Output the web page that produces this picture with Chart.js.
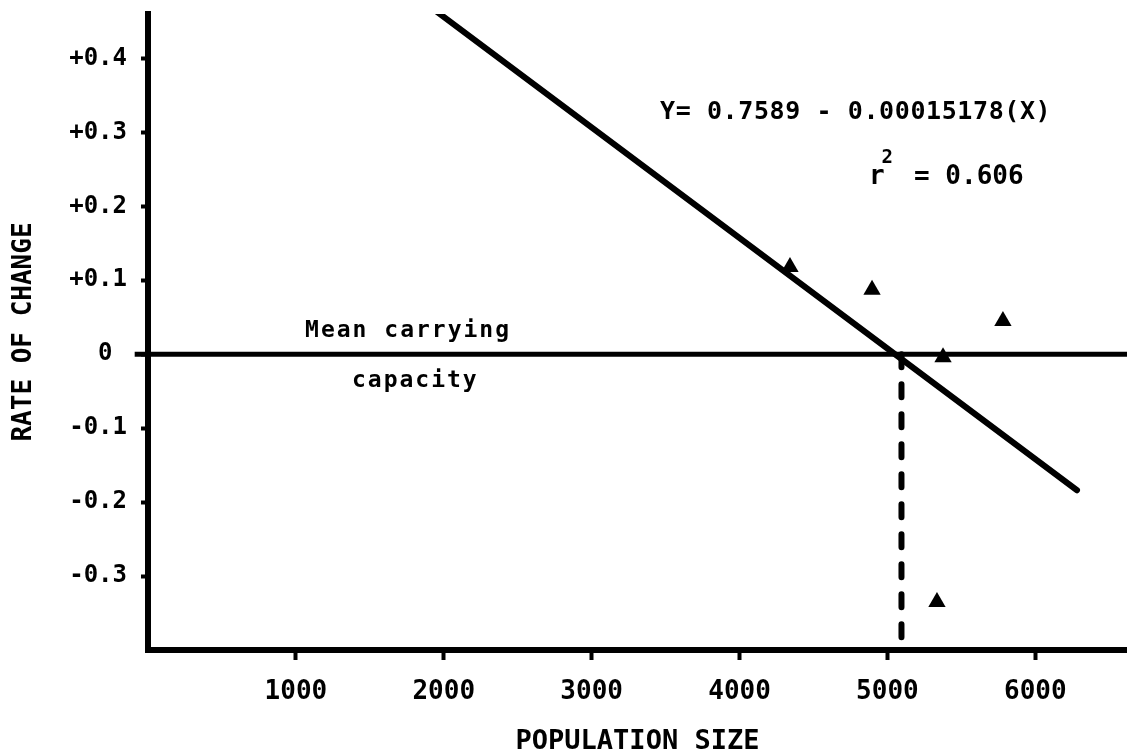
<!DOCTYPE html>
<html>
<head>
<meta charset="utf-8">
<script src="https://cdn.jsdelivr.net/npm/chart.js@4.4.1/dist/chart.umd.min.js"></script>
<style>
  body { margin: 0; background: #fff; }
  #wrap { width: 1127px; height: 756px; }
</style>
</head>
<body>
<div id="wrap"><canvas id="rateChart" width="1127" height="756"></canvas></div>
<script>
// yearly observations: population size vs. rate of change
const popSize = [4341, 4896, 5781, 5376, 5335];
const rateChange = [0.118, 0.087, 0.045, -0.004, -0.335];

// fitted line  Y = 0.7589 - 0.00015178(X), end points as drawn
const fitX = [1954, 6282];
const fitY = [0.463, -0.184];

// mean carrying capacity (dashed drop line) and the zero reference line
const carryingX = 5095;
const zeroLineX = [-90, 6620];

const xTicks = [1000, 2000, 3000, 4000, 5000, 6000];
const yTicks = [-0.3, -0.2, -0.1, 0, 0.1, 0.2, 0.3, 0.4];
// the zero label sits further out, past the longer zero line
const yTickLabels = ['-0.3', '-0.2', '-0.1', '0 ', '+0.1', '+0.2', '+0.3', '+0.4'];

const xMin = 0, xMax = 6620;
const yMin = -0.4, yMax = 0.46;

const FONT = "'DejaVu Sans Mono', monospace";

// free text on the plot, placed in data units (x, y = left / baseline)
const notes = [
    { text: 'Y= 0.7589 - 0.00015178(X)', x: 3462, y: 0.318, size: 25, spacing: 0.6 },
    { text: 'r', x: 4875, y: 0.230, size: 26, spacing: 0 },
    { text: '2', x: 4960, y: 0.259, size: 19, spacing: 0 },
    { text: '= 0.606', x: 5180, y: 0.230, size: 26, spacing: 0 },
    { text: 'Mean carrying', x: 1062, y: 0.023, size: 23, spacing: 2 },
    { text: 'capacity', x: 1379, y: -0.044, size: 23, spacing: 2 }
];

const notesPlugin = {
    id: 'notes',
    afterDatasetsDraw(chart) {
        const ctx = chart.ctx;
        const xs = chart.scales.x, ys = chart.scales.y;
        ctx.save();
        ctx.fillStyle = '#000';
        ctx.textAlign = 'left';
        ctx.textBaseline = 'alphabetic';
        notes.forEach(n => {
            ctx.font = 'bold ' + n.size + 'px ' + FONT;
            ctx.letterSpacing = n.spacing + 'px';
            ctx.fillText(n.text, xs.getPixelForValue(n.x), ys.getPixelForValue(n.y));
        });
        ctx.restore();
    }
};

const blackLine = {
    type: 'line',
    borderColor: '#000',
    pointRadius: 0,
    fill: false,
    tension: 0
};

var ctx = document.getElementById('rateChart').getContext('2d');
var rateChart = new Chart(ctx, {
    type: 'scatter',
    data: {
        datasets: [
            {
                label: 'Observed',
                data: popSize.map((x, i) => ({ x: x, y: rateChange[i] })),
                pointStyle: 'triangle',
                pointRadius: 10,
                backgroundColor: '#000',
                borderWidth: 0
            },
            Object.assign({}, blackLine, {
                label: 'Regression',
                data: fitX.map((x, i) => ({ x: x, y: fitY[i] })),
                borderWidth: 6,
                borderCapStyle: 'round'
            }),
            Object.assign({}, blackLine, {
                label: 'Zero',
                data: zeroLineX.map(x => ({ x: x, y: 0 })),
                borderWidth: 5,
                clip: false
            }),
            Object.assign({}, blackLine, {
                label: 'Mean carrying capacity',
                data: [{ x: carryingX, y: 0 }, { x: carryingX, y: yMin }],
                borderWidth: 6,
                borderCapStyle: 'round',
                borderDash: [13, 17]
            })
        ]
    },
    options: {
        responsive: false,
        animation: false,
        devicePixelRatio: 1,
        layout: {
            autoPadding: false,
            padding: { top: 14, left: 0, right: 0, bottom: 0 }
        },
        plugins: {
            legend: { display: false },
            tooltip: { enabled: false }
        },
        scales: {
            x: {
                type: 'linear',
                min: xMin,
                max: xMax,
                afterBuildTicks: s => { s.ticks = xTicks.map(v => ({ value: v })); },
                afterFit: s => {
                    s.height = 106;
                    s.paddingLeft = 0;
                    s.paddingRight = 0;
                },
                grid: { drawOnChartArea: false, color: '#000', tickLength: 10, tickWidth: 4 },
                border: { color: '#000', width: 6 },
                ticks: {
                    color: '#000',
                    padding: 17,
                    maxRotation: 0,
                    font: { family: FONT, size: 26, weight: 'bold' },
                    callback: v => String(v)
                },
                title: {
                    display: true,
                    text: 'POPULATION SIZE',
                    color: '#000',
                    font: { family: FONT, size: 27, weight: 'bold', lineHeight: 1 },
                    padding: { top: 0, bottom: 1 }
                }
            },
            y: {
                min: yMin,
                max: yMax,
                afterBuildTicks: s => { s.ticks = yTicks.map(v => ({ value: v })); },
                afterFit: s => {
                    s.width = 148;
                    s.paddingTop = 0;
                    s.paddingBottom = 0;
                },
                grid: { drawOnChartArea: false, color: '#000', tickLength: 7, tickWidth: 4 },
                border: { color: '#000', width: 6 },
                ticks: {
                    color: '#000',
                    padding: 14,
                    font: { family: FONT, size: 24, weight: 'bold' },
                    callback: v => yTickLabels[yTicks.indexOf(v)]
                },
                title: {
                    display: true,
                    text: 'RATE OF CHANGE',
                    color: '#000',
                    font: { family: FONT, size: 26, weight: 'bold', lineHeight: 1 },
                    padding: { top: 11, bottom: 0 }
                }
            }
        }
    },
    plugins: [notesPlugin]
});
</script>
</body>
</html>
